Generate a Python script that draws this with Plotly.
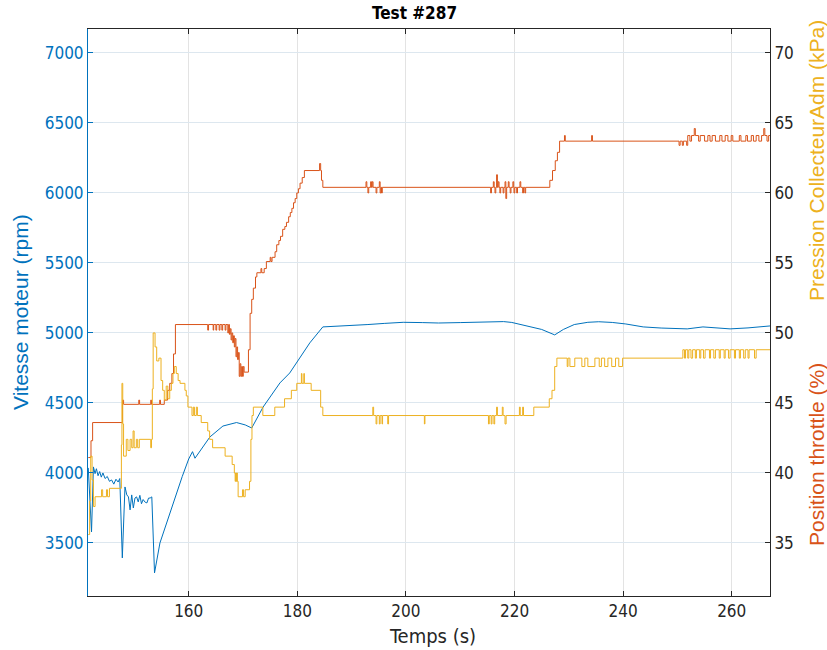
import plotly.graph_objects as go

# ---- Engine speed (rpm), left axis ----
rpm_t = [141.5, 142.1, 142.45, 142.75, 143.0, 143.3, 143.6, 143.9, 144.2, 144.6, 145.0, 145.4,
         145.8, 146.2, 146.6, 147.0, 147.3, 147.77, 148.26, 148.6, 148.9, 149.2, 149.5, 149.8,
         150.1, 150.4, 150.7, 151.0, 151.3, 151.6, 152.0, 152.3, 152.6, 152.9, 153.2, 153.7,
         154.7, 157.1, 158.4, 158.8, 160.0, 160.7, 161.15, 163.9, 166.3, 168.8, 170.4, 171.6,
         173.7, 176.8, 178.6, 180.5, 182.3, 184.7, 187.0, 190.0, 193.0, 196.0, 199.5, 203.0,
         206.0, 210.0, 214.0, 218.0, 219.5, 221.6, 225.0, 227.4, 229.0, 231.0, 233.5, 235.5,
         238.0, 240.5, 243.7, 247.0, 251.8, 254.7, 257.0, 259.7, 263.0, 267.05]
rpm_v = [4036, 3579, 4043, 3995, 4030, 3980, 4010, 3970, 4000, 3960, 3975, 3940,
         3950, 3920, 3955, 3935, 3960, 3393, 3900, 3843, 3829, 3736, 3843, 3750,
         3821, 3829, 3793, 3840, 3780, 3810, 3790, 3786, 3820, 3821, 3829, 3286,
         3500, 3786, 3938, 3974, 4100, 4152, 4105, 4257, 4335, 4360, 4343, 4321,
         4471, 4643, 4714, 4821, 4929, 5043, 5047, 5052, 5060, 5068, 5076, 5074,
         5071, 5074, 5076, 5081, 5075, 5057, 5025, 4986, 5025, 5060, 5076, 5080,
         5075, 5064, 5043, 5035, 5029, 5043, 5038, 5029, 5036, 5050]

# ---- Throttle position (%), right axis (sample-and-hold) ----
thr_t = [141.5, 142.0, 142.3, 147.8, 148.0, 150.8, 150.95, 153.0, 153.15, 154.65, 154.8, 155.5,
         156.1, 156.5, 156.9, 157.2, 157.55,
         163.5, 163.65, 164.5, 164.6, 165.0, 165.15, 165.6, 165.75, 166.1, 166.25, 166.7, 166.85,
         167.2, 167.35, 167.5, 167.65, 167.8, 167.95, 168.1, 168.25, 168.4, 168.55, 168.7, 168.85,
         169.0, 169.15, 169.3, 169.45, 169.6, 169.75, 169.9, 170.05, 170.2, 171.0, 171.3, 171.6,
         171.9, 172.3, 172.55, 173.3, 173.45, 173.9, 174.3, 175.0, 175.15, 175.35, 175.9, 176.2,
         176.6, 176.9, 177.3, 177.7, 178.0, 178.4, 178.7, 179.0, 179.3, 179.6, 179.9, 180.2,
         180.5, 180.9, 181.3, 184.1, 184.3, 184.45, 184.7,
         192.65, 192.8, 193.0, 193.15, 193.5, 193.65, 193.8, 193.95, 194.5, 194.65, 195.1, 195.25,
         195.4, 195.5, 195.65,
         215.6, 215.75, 216.1, 216.25, 216.4, 216.55, 216.7, 216.85, 217.0, 217.15, 217.3, 217.45,
         217.9, 218.05, 218.25, 218.4, 218.55, 218.85, 219.0, 219.2, 219.35, 219.7, 219.85, 219.9,
         220.05, 220.4, 220.55, 221.0, 221.15, 221.5, 221.65, 221.9, 222.05,
         226.5, 227.0, 227.5, 227.9, 228.3, 229.2, 229.35, 234.2, 234.35,
         250.3, 250.5, 250.9, 251.1, 251.7, 251.9, 252.3, 252.6, 253.1, 253.3, 253.9, 254.2,
         255.0, 255.6, 256.0, 256.4, 257.0, 257.8, 258.2, 258.8, 259.3, 259.9, 260.2, 261.4,
         261.7, 262.6, 262.9, 263.6, 264.0, 264.5, 265.0, 265.5, 265.9, 266.1, 266.5, 266.8, 267.05]
thr_v = [41.1, 42.3, 43.6, 45.2, 44.9, 45.2, 44.9, 45.2, 44.9, 45.2, 44.9, 45.2,
         45.9, 46.4, 47.1, 48.5, 50.6,
         50.2, 50.6, 50.2, 50.6, 50.2, 50.6, 50.2, 50.6, 50.2, 50.6, 50.2, 50.6,
         50.0, 50.6, 49.9, 50.3, 49.5, 50.0, 49.3, 49.8, 49.0, 49.6, 48.3, 49.0,
         48.1, 48.6, 46.9, 47.8, 46.9, 47.6, 46.9, 47.6, 47.2, 48.8, 51.4, 52.4,
         53.2, 54.0, 54.3, 54.6, 54.3, 54.6, 55.1, 55.4, 55.1, 55.4, 55.8, 56.3,
         56.6, 56.9, 57.4, 57.6, 57.9, 58.3, 58.6, 58.9, 59.3, 59.6, 60.0, 60.3,
         60.7, 61.1, 61.6, 62.1, 61.6, 60.9, 60.4,
         60.8, 60.4, 60.0, 60.4, 60.8, 60.4, 60.8, 60.4, 60.0, 60.4, 60.8, 60.0,
         60.4, 60.0, 60.4,
         60.0, 60.4, 60.8, 60.4, 60.0, 60.4, 61.3, 60.4, 60.8, 60.4, 60.0, 60.4,
         60.0, 60.4, 60.8, 59.6, 60.4, 60.8, 60.4, 60.0, 60.4, 60.8, 60.4, 60.0,
         60.4, 60.0, 60.4, 60.8, 60.4, 60.0, 60.4, 60.0, 60.4,
         60.9, 61.6, 62.3, 62.9, 63.7, 64.1, 63.7, 64.1, 63.7,
         63.4, 63.7, 63.4, 63.7, 63.4, 64.1, 63.7, 64.1, 64.6, 64.1, 63.7, 64.1,
         63.7, 64.1, 63.7, 64.1, 63.7, 64.1, 63.7, 64.1, 63.7, 64.1, 63.7, 64.1,
         63.7, 64.1, 63.7, 64.1, 63.7, 64.1, 63.7, 64.1, 64.6, 64.1, 63.7, 64.1, 64.1]

# ---- Intake manifold pressure (kPa), right axis (sample-and-hold) ----
map_t = [141.5, 141.75, 141.95, 142.2, 142.45, 142.75, 143.95, 144.15, 144.85, 145.05, 145.4,
         147.6, 147.7, 147.85, 148.0, 148.5, 148.8, 149.2, 149.5, 149.75, 149.95, 150.35, 150.6,
         150.9, 153.0, 153.15, 153.3, 153.45, 153.8, 154.1, 154.5, 154.9, 155.2, 155.5, 155.85,
         156.15, 156.5, 156.8, 157.1, 157.35, 157.7, 158.05, 158.4, 159.3, 159.55, 159.85,
         160.6, 160.85, 161.05, 161.4, 161.6, 162.3, 163.5, 163.85, 164.4, 166.7, 168.0, 168.4,
         168.55, 168.65, 168.75, 168.85, 168.95, 169.1, 169.9, 170.1, 170.4, 171.2, 171.45,
         171.65, 171.9, 173.65, 175.85, 177.65, 178.9, 179.9, 180.75, 180.85, 181.2, 181.3,
         182.55, 184.3, 184.7,
         193.9, 194.05, 194.5, 194.65, 195.1, 195.25, 195.6, 195.7, 196.65, 196.8, 203.4, 203.5,
         215.2, 215.35, 215.7, 215.85, 216.2, 216.35, 216.7, 216.85, 217.75, 217.9, 218.25, 218.45,
         220.9, 221.05, 221.5, 221.65, 223.55, 226.4, 226.9, 227.4, 227.8,
         229.7, 229.85, 230.2, 231.1, 232.4, 232.95, 233.5, 234.8, 235.6, 236.0, 236.6, 237.2,
         237.9, 238.6, 239.2, 239.9,
         251.0, 251.3, 251.5, 251.9, 252.1, 252.5, 252.8, 253.3, 253.5, 254.1, 254.3, 254.8,
         255.1, 255.9, 256.1, 256.7, 257.0, 257.7, 257.9, 258.6, 258.8, 259.4, 259.7, 260.5,
         260.7, 261.4, 261.6, 262.2, 262.5, 263.0, 263.2, 264.2, 264.5, 267.05]
map_v = [35.6, 38.0, 41.2, 39.5, 37.6, 38.3, 38.8, 38.3, 38.8, 38.3, 38.9,
         42.0, 46.4, 43.5, 41.2, 42.4, 41.6, 42.4, 41.8, 43.0, 41.8, 42.4, 41.8,
         42.4, 41.8, 42.4, 46.0, 50.0, 49.0, 48.0, 48.2, 46.6, 45.9, 45.2, 46.2,
         45.3, 45.9, 46.4, 47.1, 47.6, 47.1, 46.6, 46.4, 45.9, 45.5, 44.7,
         44.1, 44.7, 44.1, 44.7, 44.1, 43.6, 43.0, 42.4, 41.8, 41.2, 40.6, 40.0,
         39.4, 40.0, 39.4, 40.0, 39.4, 38.3, 38.8, 38.3, 38.8, 39.4, 42.4,
         44.1, 44.7, 44.1, 44.7, 45.3, 45.9, 46.4, 47.1, 46.4, 47.1, 46.4,
         45.9, 44.7, 44.1,
         44.7, 44.1, 43.5, 44.1, 43.5, 44.1, 43.5, 44.1, 43.5, 44.1, 43.5, 44.1,
         43.5, 44.1, 43.5, 44.1, 43.5, 44.1, 44.7, 44.1, 44.7, 44.1, 43.5, 44.1,
         44.7, 44.1, 44.7, 44.1, 44.7, 45.3, 45.9, 47.6, 48.2,
         47.6, 48.2, 47.6, 48.2, 47.6, 48.2, 47.6, 48.2, 47.6, 48.2, 47.6, 48.2,
         47.6, 48.2, 47.6, 48.2,
         48.8, 48.2, 48.8, 48.2, 48.8, 48.2, 48.8, 48.2, 48.8, 48.2, 48.8, 48.2,
         48.8, 48.2, 48.8, 48.2, 48.8, 48.2, 48.8, 48.2, 48.8, 48.2, 48.8, 48.2,
         48.8, 48.2, 48.8, 48.2, 48.8, 48.2, 48.8, 48.2, 48.8, 48.8]

x_ticks = [160, 180, 200, 220, 240, 260]
rpm_ticks = [3500, 4000, 4500, 5000, 5500, 6000, 6500, 7000]
right_ticks = [35, 40, 45, 50, 55, 60, 65, 70]

BLUE = "#0072BD"
ORANGE = "#D95319"
YELLOW = "#EDB120"
DARK = "#262626"
NARROW = "Liberation Sans Narrow, DejaVu Sans Condensed, Liberation Sans, sans-serif"
REGULAR = "Liberation Sans, Arial, sans-serif"

fig = go.Figure()
fig.add_trace(go.Scatter(x=rpm_t, y=rpm_v, mode="lines", line=dict(color=BLUE, width=1),
                         name="Vitesse moteur", yaxis="y"))
fig.add_trace(go.Scatter(x=thr_t, y=thr_v, mode="lines", line=dict(color=ORANGE, width=1, shape="hv"),
                         name="Position throttle", yaxis="y2"))
fig.add_trace(go.Scatter(x=map_t, y=map_v, mode="lines", line=dict(color=YELLOW, width=1, shape="hv"),
                         name="Pression CollecteurAdm", yaxis="y2"))

L, R, T, B = 88, 770, 29, 596
W, H = 827, 650


def px_x(p):
    return (p - L) / (R - L)


def px_y(p):
    return (B - p) / (B - T)


fig.update_layout(
    width=W, height=H,
    margin=dict(l=L, r=W - R, t=T, b=H - B),
    paper_bgcolor="white", plot_bgcolor="white",
    showlegend=False,
    font=dict(family=NARROW, size=18, color=DARK),
    xaxis=dict(range=[141.45, 267.05], tickvals=x_ticks, ticks="inside", ticklen=5,
               tickcolor=DARK, showline=True, linecolor=DARK, linewidth=1, mirror="ticks",
               showgrid=True, gridcolor="#e3e3e3", gridwidth=1, zeroline=False,
               tickfont=dict(family=NARROW, size=17, color=DARK)),
    yaxis=dict(range=[3121, 7171], tickvals=rpm_ticks, ticks="inside", ticklen=5,
               tickcolor=BLUE, showline=True, linecolor=BLUE, linewidth=1,
               showgrid=True, gridcolor="#dde7ef", gridwidth=1, zeroline=False,
               tickfont=dict(family=NARROW, size=17, color=BLUE)),
    yaxis2=dict(range=[31.21, 71.71], tickvals=right_ticks, overlaying="y", side="right",
                ticks="inside", ticklen=5, tickcolor=DARK, showline=True, linecolor=DARK,
                linewidth=1, showgrid=False, zeroline=False,
                tickfont=dict(family=NARROW, size=17, color=DARK)),
    annotations=[
        dict(text="<b>Test #287</b>", xref="paper", yref="paper", x=px_x(414), y=px_y(13),
             xanchor="center", yanchor="middle", showarrow=False,
             font=dict(family=NARROW, size=17, color="black")),
        dict(text="Temps (s)", xref="paper", yref="paper", x=px_x(432), y=px_y(636),
             xanchor="center", yanchor="middle", showarrow=False,
             font=dict(family=NARROW, size=20, color=DARK)),
        dict(text="Vitesse moteur (rpm)", xref="paper", yref="paper", x=px_x(20), y=px_y(312),
             textangle=-90, xanchor="center", yanchor="middle", showarrow=False,
             font=dict(family=REGULAR, size=21, color=BLUE)),
        dict(text="Pression CollecteurAdm (kPa)", xref="paper", yref="paper", x=px_x(816),
             y=px_y(161), textangle=-90, xanchor="center", yanchor="middle", showarrow=False,
             font=dict(family=REGULAR, size=21, color=YELLOW)),
        dict(text="Position throttle (%)", xref="paper", yref="paper", x=px_x(816),
             y=px_y(455), textangle=-90, xanchor="center", yanchor="middle", showarrow=False,
             font=dict(family=REGULAR, size=21, color=ORANGE)),
    ],
)

fig.write_html("out.html")
